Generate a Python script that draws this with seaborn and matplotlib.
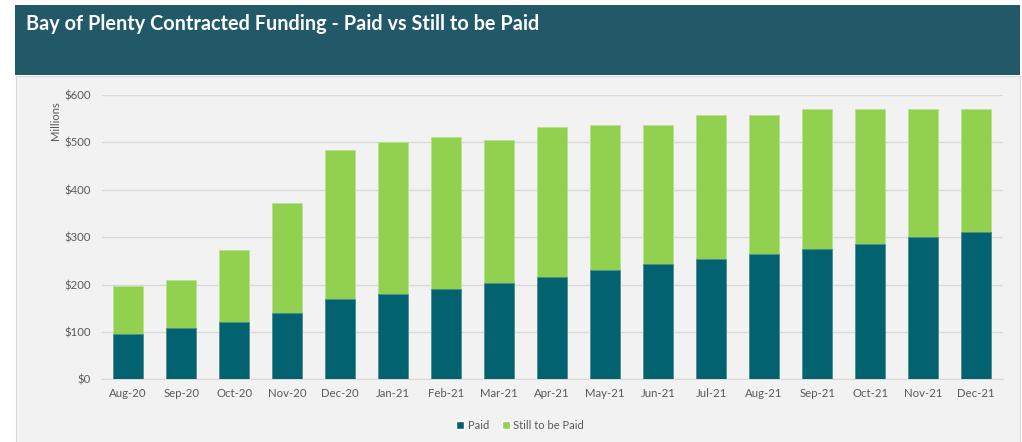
from matplotlib import pyplot as plt
from matplotlib.patches import Patch, Rectangle
import pandas as pd
import seaborn as sns

months = ["Aug-20", "Sep-20", "Oct-20", "Nov-20", "Dec-20", "Jan-21", "Feb-21", "Mar-21",
          "Apr-21", "May-21", "Jun-21", "Jul-21", "Aug-21", "Sep-21", "Oct-21", "Nov-21", "Dec-21"]
paid = [96, 109, 120, 139, 170, 180, 191, 204, 216, 230, 243, 254, 264, 276, 286, 300, 311]
still_to_be_paid = [101, 101, 153, 233, 313, 321, 320, 302, 316, 306, 293, 304, 294, 294, 284, 270, 260]
y_ticks = [0, 100, 200, 300, 400, 500, 600]

PAID_COLOR = "#02626F"
STILL_COLOR = "#92D050"
HEADER_COLOR = "#215968"
PANEL_COLOR = "#F2F2F2"
TEXT_COLOR = "#595959"

sns.set_style("white")
plt.rcParams["font.family"] = ["Lato", "DejaVu Sans"]

df = pd.DataFrame({"month": months, "paid": paid, "still": still_to_be_paid})
df["total"] = df["paid"] + df["still"]

fig = plt.figure(figsize=(10.22, 4.42), dpi=100)
fig.patch.set_facecolor("white")

# header band and grey panel
fig.add_artist(Rectangle((0.0147, 0.830), 0.983, 0.159, transform=fig.transFigure,
                         facecolor=HEADER_COLOR, edgecolor="none", zorder=0))
fig.add_artist(Rectangle((0.0157, -0.01), 0.982, 0.838, transform=fig.transFigure,
                         facecolor=PANEL_COLOR, edgecolor="#D9D9D9", linewidth=0.8, zorder=0))
fig.text(0.025, 0.946, "Bay of Plenty Contracted Funding - Paid vs Still to be Paid",
         color="white", fontsize=14.3, fontweight="bold", va="center", ha="left")

ax = fig.add_axes([0.0995, 0.142, 0.8815, 0.643])
ax.set_facecolor("none")

sns.barplot(data=df, x="month", y="total", color=STILL_COLOR, width=0.57, ax=ax,
            saturation=1, edgecolor="#B8E090", linewidth=0.6, zorder=2)
sns.barplot(data=df, x="month", y="paid", color=PAID_COLOR, width=0.57, ax=ax,
            saturation=1, edgecolor="#4F8E97", linewidth=0.6, zorder=3)

ax.set_ylim(0, 600)
ax.set_xlim(-0.5, len(months) - 0.5)
ax.set_yticks(y_ticks)
ax.set_yticklabels([f"${v}" for v in y_ticks])
ax.yaxis.grid(True, color="#D9D9D9", linewidth=1)
ax.set_axisbelow(True)
for side in ["top", "right", "left"]:
    ax.spines[side].set_visible(False)
ax.spines["bottom"].set_color("#D9D9D9")
ax.tick_params(axis="both", length=0, colors=TEXT_COLOR, labelsize=8.2)
ax.tick_params(axis="x", pad=6)
ax.tick_params(axis="y", pad=8)
ax.set_xlabel("")
ax.set_ylabel("")

fig.text(0.054, 0.728, "Millions", rotation=90, color=TEXT_COLOR, fontsize=8,
         ha="center", va="center")

handles = [Patch(facecolor=PAID_COLOR, label="Paid"),
           Patch(facecolor=STILL_COLOR, label="Still to be Paid")]
fig.legend(handles=handles, loc="center", bbox_to_anchor=(0.509, 0.038), ncol=2,
           frameon=False, fontsize=8, labelcolor=TEXT_COLOR, handlelength=0.7,
           handleheight=0.7, handletextpad=0.3, columnspacing=1.2)

plt.savefig("out.png", dpi=100, facecolor=fig.get_facecolor())
plt.close()
